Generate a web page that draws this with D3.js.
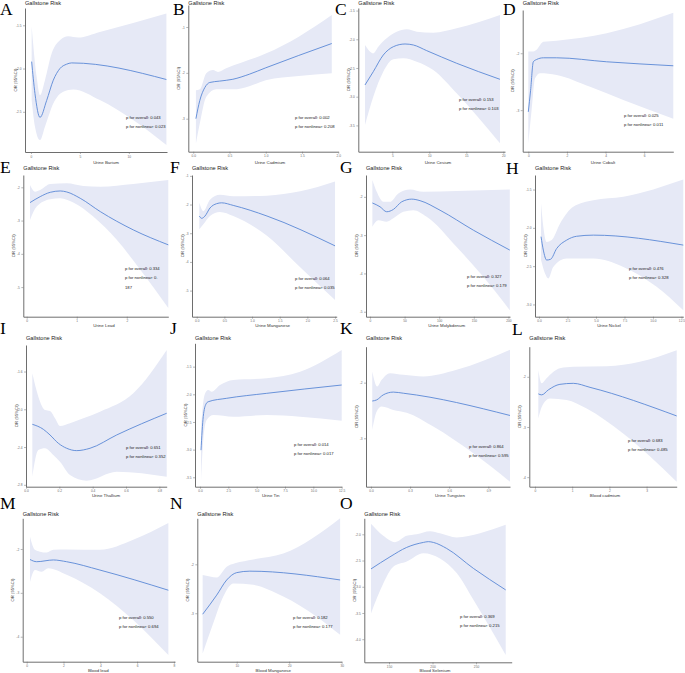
<!DOCTYPE html>
<html>
<head>
<meta charset="utf-8">
<script src="https://cdn.jsdelivr.net/npm/d3@7"></script>
<style>
  body { margin: 0; background: #fff; }
</style>
</head>
<body>
<div id="grafica"></div>
<script>
// ---- datos de cada panel ----
const letters = ["A","B","C","D","E","F","G","H","I","J","K","L","M","N","O"];
const xTitles = ["Urine Barium","Urine Cadmium","Urine Cesium","Urine Cobalt",
  "Urine Lead","Urine Manganese","Urine Molybdenum","Urine Nickel",
  "Urine Thallium","Urine Tin","Urine Tungsten","Blood cadmium",
  "Blood lead","Blood Manganese","Blood Selenium"];
const pOverall = ["0.043","0.002","0.153","0.025","0.334","0.064","0.327","0.476",
  "0.651","0.014","0.864","0.683","0.550","0.182","0.369"];
const pNonlinear = ["0.023","0.208","0.103","0.011","0.187","0.035","0.179","0.328",
  "0.352","0.017","0.595","0.485","0.694","0.177","0.215"];

const xTicks = [
  [0,5,10], [0,0.5,1,1.5,2], [5,10,15,20], [0,2,4,6],
  [0,1,2], [0,0.5,1,1.5,2,2.5], [0,50,100,150,200], [0,2.5,5,7.5,10,12.5],
  [0,0.2,0.4,0.6,0.8], [0,2.5,5,7.5,10,12.5], [0,0.3,0.6,0.9], [0,1,2,3],
  [0,2,4,6,8], [10,20,30], [150,200,250]
];
const yTicks = [
  [-1.5,-2,-2.5], [-1,-2,-3], [-1.5,-2,-2.5,-3,-3.5], [-2,-3],
  [-2,-3,-4,-5], [-1,-2,-3,-4,-5], [-2,-3,-4,-5], [-1.5,-2,-2.5,-3],
  [-1.6,-2,-2.4,-2.8], [-1.5,-2,-2.5,-3,-3.5], [-2,-3], [-2,-3,-4],
  [-2,-3,-4], [-2,-3], [-2,-2.5,-3,-3.5,-4]
];
const xDomains = [
  [-0.61,13.9], [-0.068,2.0], [0.405,20.23], [-0.29,7.51],
  [-0.068,2.83], [-0.085,2.53], [-5.8,202.3], [-0.35,12.66],
  [0,0.844], [-0.44,12.5], [-0.038,1.066], [-0.153,3.81],
  [-0.217,8.06], [2.5,30.0], [121.6,291]
];
const yDomains = [
  [-2.965,-1.30], [-3.72,-0.52], [-3.958,-1.455], [-3.73,-1.24],
  [-5.89,-1.63], [-5.91,-0.97], [-5.13,-1.43], [-3.16,-1.31],
  [-2.82,-1.319], [-3.67,-1.078], [-3.87,-1.354], [-4.19,-1.40],
  [-4.57,-1.30], [-3.99,-1.06], [-4.44,-1.695]
];

// curva ajustada [x, logOR]
const fits = [
  [[0.07,-1.92],[0.41,-2.29],[0.92,-2.565],[1.6,-2.37],[2.28,-2.135],[2.96,-2.0],[3.64,-1.95],[4.15,-1.935],[13.84,-2.127]],
  [[0.037,-3.0],[0.091,-2.6],[0.16,-2.32],[0.228,-2.21],[0.364,-2.18],[0.546,-2.14],[0.773,-2.03],[1.0,-1.89],[1.91,-1.36]],
  [[1.31,-2.796],[2.43,-2.564],[3.78,-2.274],[5.14,-2.129],[6.72,-2.082],[7.84,-2.099],[9.65,-2.198],[13.7,-2.418],[19.55,-2.697]],
  [[0.0,-3.03],[0.12,-2.65],[0.26,-2.15],[0.43,-2.11],[0.78,-2.08],[1.47,-2.08],[4.06,-2.15],[7.51,-2.22]],
  [[0.066,-2.46],[0.27,-2.28],[0.47,-2.15],[0.67,-2.11],[0.8,-2.14],[1.07,-2.33],[1.47,-2.73],[2.13,-3.28],[2.83,-3.73]],
  [[0.047,-2.40],[0.09,-2.48],[0.15,-2.40],[0.24,-2.12],[0.36,-1.97],[0.45,-1.94],[0.66,-2.03],[1.27,-2.40],[2.5,-3.44]],
  [[3.4,-2.16],[14.5,-2.26],[24.1,-2.39],[33.7,-2.33],[45.8,-2.13],[60.3,-2.06],[72.3,-2.10],[101.2,-2.35],[149.3,-2.87],[202,-3.39]],
  [[0.18,-2.115],[0.38,-2.29],[0.67,-2.42],[1.02,-2.41],[1.55,-2.27],[2.43,-2.16],[3.3,-2.11],[4.77,-2.095],[12.66,-2.225]],
  [[0.038,-2.159],[0.104,-2.212],[0.144,-2.272],[0.194,-2.36],[0.244,-2.413],[0.304,-2.438],[0.384,-2.413],[0.544,-2.272],[0.844,-2.042]],
  [[0.09,-3.01],[0.29,-2.40],[0.53,-2.175],[0.73,-2.134],[2.36,-2.072],[5.89,-1.982],[12.5,-1.832]],
  [[0.01,-2.33],[0.044,-2.31],[0.094,-2.22],[0.171,-2.17],[0.248,-2.19],[1.066,-2.59]],
  [[0.09,-2.34],[0.18,-2.36],[0.36,-2.26],[0.67,-2.15],[1.03,-2.13],[1.48,-2.21],[3.81,-2.78]],
  [[0.18,-2.24],[0.54,-2.29],[1.45,-2.25],[2.17,-2.29],[3.98,-2.48],[7.70,-2.94]],
  [[3.52,-3.02],[6.19,-2.63],[8.1,-2.32],[10.0,-2.17],[12.5,-2.14],[29.7,-2.32]],
  [[129.3,-2.66],[151.1,-2.43],[170.3,-2.25],[189.5,-2.155],[195.2,-2.14],[201,-2.155],[216.3,-2.27],[247,-2.65],[284.1,-3.06]]
];

// limite superior del IC 95%
const uppers = [
  [[0.07,-1.51],[0.58,-2.096],[0.92,-2.308],[1.43,-2.135],[2.11,-1.827],[2.96,-1.673],[3.81,-1.627],[4.83,-1.642],[7.04,-1.577],[10.44,-1.473],[13.84,-1.365]],
  [[0.037,-2.38],[0.091,-2.36],[0.18,-2.01],[0.273,-1.94],[0.341,-1.98],[0.455,-1.9],[1.0,-1.58],[1.455,-1.21],[1.91,-0.74]],
  [[1.31,-2.099],[2.43,-2.244],[3.11,-2.129],[4.24,-1.983],[5.59,-1.868],[6.95,-1.826],[8.3,-1.868],[10.54,-1.885],[13.7,-1.809],[19.55,-1.577]],
  [[0.0,-1.97],[0.26,-1.97],[0.43,-1.94],[0.78,-1.80],[1.47,-1.78],[4.06,-1.65],[7.51,-1.29]],
  [[0.066,-1.93],[0.166,-2.13],[0.27,-2.08],[0.47,-1.9],[0.8,-1.88],[1.13,-1.96],[1.47,-1.98],[2.13,-1.9],[2.83,-1.78]],
  [[0.047,-1.94],[0.12,-2.23],[0.24,-1.83],[0.42,-1.66],[0.66,-1.71],[1.27,-1.69],[1.87,-1.54],[2.5,-1.20]],
  [[3.4,-1.56],[9.7,-1.87],[19.3,-2.13],[28.9,-2.13],[40.9,-1.91],[57.8,-1.81],[77,-1.87],[125.3,-1.85],[202,-1.81]],
  [[0.18,-1.68],[0.38,-1.985],[0.67,-2.185],[1.11,-2.16],[1.84,-1.945],[3.01,-1.725],[4.77,-1.64],[7.4,-1.595],[12.66,-1.37]],
  [[0.038,-1.619],[0.074,-1.866],[0.114,-2.007],[0.144,-2.018],[0.174,-2.095],[0.204,-2.177],[0.264,-2.148],[0.344,-2.095],[0.444,-2.025],[0.644,-1.83],[0.844,-1.372]],
  [[0.09,-2.646],[0.29,-2.134],[0.53,-1.953],[0.73,-1.922],[1.03,-1.953],[1.77,-1.832],[2.94,-1.74],[5.89,-1.71],[8.83,-1.591],[12.5,-1.199]],
  [[0.01,-1.80],[0.048,-2.07],[0.082,-1.95],[0.146,-1.83],[0.248,-1.86],[0.401,-1.89],[0.657,-1.77],[1.066,-1.41]],
  [[0.09,-1.87],[0.18,-2.13],[0.31,-2.03],[0.67,-1.83],[1.03,-1.80],[1.93,-1.79],[2.82,-1.70],[3.81,-1.47]],
  [[0.18,-1.72],[0.45,-2.02],[0.72,-2.06],[1.09,-2.08],[1.45,-2.02],[2.17,-2.01],[3.98,-2.02],[5.79,-1.79],[7.7,-1.41]],
  [[3.52,-2.22],[4.91,-2.25],[6.19,-2.27],[8.1,-2.05],[9.68,-1.98],[13.16,-1.90],[18.88,-1.78],[29.7,-1.06]],
  [[129.3,-1.80],[143.4,-2.03],[156.9,-2.15],[170.3,-2.03],[181.8,-2.0],[197.1,-1.94],[208.6,-1.98],[227.8,-2.06],[254.6,-1.98],[284.1,-1.82]]
];

// limite inferior del IC 95%
const lowers = [
  [[0.07,-2.365],[0.41,-2.673],[0.92,-2.827],[1.43,-2.673],[2.28,-2.404],[3.30,-2.269],[4.32,-2.242],[7.04,-2.365],[10.44,-2.596],[13.84,-2.885]],
  [[0.037,-3.54],[0.091,-3.1],[0.18,-2.52],[0.318,-2.36],[0.546,-2.36],[0.773,-2.29],[1.0,-2.16],[1.455,-2.07],[1.91,-2.01]],
  [[1.31,-3.493],[2.43,-3.0],[3.78,-2.564],[5.14,-2.348],[6.49,-2.331],[8.3,-2.39],[10.54,-2.535],[13.7,-2.941],[19.55,-3.812]],
  [[0.0,-3.59],[0.17,-3.0],[0.35,-2.44],[0.61,-2.35],[1.47,-2.38],[3.2,-2.59],[4.92,-2.82],[7.51,-3.15]],
  [[0.066,-2.98],[0.2,-2.58],[0.47,-2.36],[0.67,-2.33],[0.93,-2.46],[1.33,-2.88],[1.8,-3.58],[2.27,-4.48],[2.83,-5.63]],
  [[0.047,-2.86],[0.12,-2.69],[0.24,-2.40],[0.42,-2.26],[0.66,-2.4],[1.27,-3.09],[1.87,-4.19],[2.5,-5.33]],
  [[3.4,-2.78],[12,-2.61],[24.1,-2.65],[33.7,-2.56],[48.1,-2.39],[62.6,-2.35],[81.9,-2.52],[125.3,-3.31],[163.7,-4.09],[202,-4.96]],
  [[0.18,-2.42],[0.53,-2.595],[0.82,-2.66],[1.25,-2.51],[2.43,-2.40],[4.77,-2.40],[7.4,-2.51],[10.32,-2.77],[12.66,-3.075]],
  [[0.038,-2.714],[0.074,-2.431],[0.114,-2.413],[0.164,-2.484],[0.204,-2.555],[0.264,-2.696],[0.364,-2.756],[0.544,-2.661],[0.844,-2.714]],
  [[0.09,-3.58],[0.29,-2.826],[0.59,-2.465],[1.18,-2.374],[2.94,-2.405],[5.89,-2.374],[8.83,-2.405],[12.5,-2.477]],
  [[0.01,-2.85],[0.044,-2.52],[0.082,-2.43],[0.171,-2.49],[0.274,-2.54],[0.478,-2.79],[0.785,-3.27],[1.066,-3.78]],
  [[0.09,-2.83],[0.18,-2.60],[0.40,-2.43],[0.85,-2.46],[1.39,-2.63],[2.37,-3.13],[3.81,-4.09]],
  [[0.18,-2.75],[0.45,-2.48],[0.81,-2.52],[1.17,-2.44],[2.17,-2.59],[3.98,-3.01],[5.79,-3.62],[7.7,-4.42]],
  [[3.52,-3.82],[5.55,-3.20],[7.45,-2.66],[9.36,-2.39],[13.16,-2.42],[18.88,-2.66],[25.24,-3.07],[29.7,-3.44]],
  [[129.3,-3.51],[143.4,-2.94],[154.9,-2.62],[170.3,-2.52],[189.5,-2.36],[208.6,-2.46],[227.8,-2.74],[247,-3.25],[284.1,-4.30]]
];

// ---- disposicion de la figura ----
// caja del area de trazado: [izq, arriba, der, abajo]
const boxes = [
  [25,8,167,152], [188.3,5,338.3,151.7], [358.3,8,505,151.7], [522.7,10,673.3,151.7],
  [23.3,175,168.3,316.7], [192,175,336.7,316.7], [366,175,510,316.7], [535,175,683.3,316.7],
  [26,345,166.7,486.7], [195,343.3,341.7,486.7], [366,346.7,510,486.7], [529.3,346.7,676.7,486.7],
  [22.7,518.3,175,661.7], [197.3,518.3,341.7,661.7], [364.3,518.3,511.7,662.3]
];
const letterPos = [
  [0,15],[173,15],[335,15],[503,15],
  [0,173],[170,173],[340,173],[506,174],
  [0,334],[170,334],[340,334],[512,335],
  [0,509],[170,509],[340,509]
];
const titleY = [4.8, 169.6, 339.6, 516];
const xTitlePos = [
  [106,163.5],[270,163.5],[438,163.5],[603,163.5],
  [104,327],[272.7,327],[446.7,327],[609,327],
  [106,497],[270.7,497],[450,497],[605,497],
  [98.3,672],[273.3,672],[435,672]
];
const pPos = [
  [126,119],[295,118.5],[459,100.5],[624,116.5],
  [125,270],[295,280],[467,277.5],[629,270],
  [126,448.5],[294,446],[469,447.5],[628,441.5],
  [119,618.5],[293,619],[460,617.5]
];
const pWrap = { 4: 2 };   // en E el valor se parte en dos lineas

const colorLinea = "#5a88d6";
const colorBanda = "#e6e9f6";
const colorEje = "#6e6e6e";
const fuente = "'Liberation Sans', Arial, sans-serif";

const svg = d3.select("#grafica").append("svg")
  .attr("width", 685)
  .attr("height", 673)
  .style("display", "block");

function formato(ticks) {
  const dec = ticks.some(t => !Number.isInteger(t)) ? 1 : 0;
  return v => v.toFixed(dec).replace("\u2212", "-");
}

letters.forEach(function (letra, i) {
  const [l, t, r, b] = boxes[i];
  const x = d3.scaleLinear().domain(xDomains[i]).range([l, r]);
  const y = d3.scaleLinear().domain(yDomains[i]).range([b, t]);
  const g = svg.append("g").attr("class", "panel");

  const line = d3.line()
    .x(d => x(d[0]))
    .y(d => y(d[1]))
    .curve(d3.curveMonotoneX);

  // banda del intervalo de confianza
  const arriba = line(uppers[i]);
  const abajo = line(lowers[i].slice().reverse());
  g.append("path")
    .attr("d", arriba + "L" + abajo.slice(1) + "Z")
    .attr("fill", colorBanda)
    .attr("stroke", "none");

  // curva ajustada
  g.append("path")
    .attr("d", line(fits[i]))
    .attr("fill", "none")
    .attr("stroke", colorLinea)
    .attr("stroke-width", 0.9);

  // ejes
  const xAxis = d3.axisBottom(x).tickValues(xTicks[i]).tickSize(2)
    .tickSizeOuter(0).tickPadding(1.5).tickFormat(formato(xTicks[i]));
  const yAxis = d3.axisLeft(y).tickValues(yTicks[i]).tickSize(2)
    .tickSizeOuter(0).tickPadding(1.5).tickFormat(formato(yTicks[i]));

  [g.append("g").attr("transform", `translate(0,${b})`).call(xAxis),
   g.append("g").attr("transform", `translate(${l},0)`).call(yAxis)]
    .forEach(function (ax) {
      ax.attr("font-family", fuente).attr("font-size", 3.2);
      ax.select(".domain").attr("stroke", colorEje).attr("stroke-width", 1);
      ax.selectAll(".tick line").attr("stroke", colorEje).attr("stroke-width", 0.5);
      ax.selectAll(".tick text").attr("fill", "#6b6b6b");
    });

  // titulo del panel
  g.append("text")
    .attr("x", l)
    .attr("y", titleY[Math.floor(i / 4)])
    .attr("font-family", fuente)
    .attr("font-size", 5.6)
    .attr("fill", "#222")
    .text("Gallstone Risk");

  // titulo eje x
  g.append("text")
    .attr("x", xTitlePos[i][0])
    .attr("y", xTitlePos[i][1])
    .attr("text-anchor", "middle")
    .attr("font-family", fuente)
    .attr("font-size", 4.4)
    .attr("fill", "#333")
    .text(xTitles[i]);

  // titulo eje y
  const cy = (t + b) / 2;
  g.append("text")
    .attr("transform", `translate(${l - 10},${cy}) rotate(-90)`)
    .attr("text-anchor", "middle")
    .attr("dominant-baseline", "central")
    .attr("font-family", fuente)
    .attr("font-size", 4.2)
    .attr("fill", "#333")
    .text("OR (95%CI)");

  // valores p
  let lineas = ["p for overall: " + pOverall[i]];
  if (pWrap[i] !== undefined) {
    const v = pNonlinear[i];
    lineas.push("p for nonlinear: " + v.slice(0, pWrap[i]), v.slice(pWrap[i]));
  } else {
    lineas.push("p for nonlinear: " + pNonlinear[i]);
  }
  lineas.forEach(function (txt, k) {
    g.append("text")
      .attr("x", pPos[i][0])
      .attr("y", pPos[i][1] + k * 9.3)
      .attr("font-family", fuente)
      .attr("font-size", 4.2)
      .attr("fill", "#1a1a1a")
      .text(txt);
  });

  // letra del panel
  svg.append("text")
    .attr("x", letterPos[i][0])
    .attr("y", letterPos[i][1])
    .attr("font-family", "'Liberation Serif', 'Times New Roman', serif")
    .attr("font-size", 17.5)
    .attr("fill", "#000")
    .text(letra);
});
</script>
</body>
</html>
